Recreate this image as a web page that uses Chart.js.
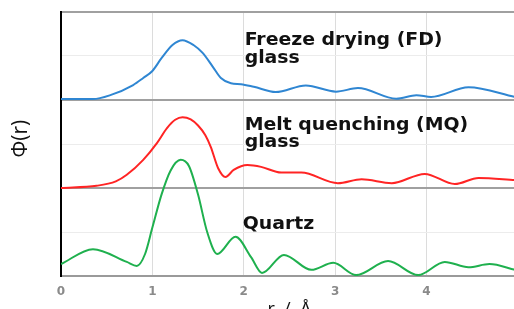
<!DOCTYPE html>
<html>
<head>
<meta charset="utf-8">
<script src="https://cdn.jsdelivr.net/npm/chart.js@4"></script>
<style>
    html, body { margin: 0; padding: 0; background: #fff; overflow: hidden; }
    #wrap { width: 531px; height: 326px; position: relative; }
</style>
</head>
<body>
<div id="wrap"><canvas id="chart"></canvas></div>
<script>
// Data
const fdR   = [0, 0.35, 0.54, 0.79, 0.9, 1.0, 1.1, 1.22, 1.33, 1.45, 1.55, 1.66, 1.75, 1.86, 1.97, 2.11, 2.35, 2.68, 3.01, 3.25, 3.67, 3.89, 4.05, 4.46, 4.97];
const fdPhi = [4.02, 4.02, 4.11, 4.34, 4.5, 4.66, 4.95, 5.25, 5.36, 5.25, 5.07, 4.76, 4.5, 4.38, 4.36, 4.3, 4.18, 4.33, 4.19, 4.27, 4.03, 4.11, 4.07, 4.29, 4.07];

const mqR   = [0, 0.39, 0.6, 0.72, 0.9, 1.05, 1.16, 1.25, 1.33, 1.42, 1.5, 1.58, 1.64, 1.72, 1.8, 1.89, 2.04, 2.19, 2.41, 2.63, 3.03, 3.29, 3.62, 3.98, 4.31, 4.57, 4.97];
const mqPhi = [2.0, 2.05, 2.15, 2.3, 2.64, 3.02, 3.36, 3.55, 3.61, 3.56, 3.42, 3.2, 2.93, 2.45, 2.25, 2.41, 2.52, 2.48, 2.35, 2.35, 2.11, 2.2, 2.11, 2.32, 2.09, 2.23, 2.18];

const qzR   = [0, 0.35, 0.72, 0.83, 0.92, 1.0, 1.1, 1.2, 1.31, 1.4, 1.5, 1.6, 1.71, 1.91, 2.08, 2.2, 2.44, 2.74, 2.98, 3.23, 3.58, 3.91, 4.2, 4.46, 4.69, 4.97];
const qzPhi = [0.27, 0.61, 0.32, 0.23, 0.5, 1.1, 1.85, 2.4, 2.64, 2.5, 1.85, 1.0, 0.5, 0.89, 0.43, 0.07, 0.48, 0.14, 0.3, 0.02, 0.34, 0.02, 0.32, 0.2, 0.27, 0.14];

const xTicks = [0, 1, 2, 3, 4, 5];

// text labels: [lines, r, phi]
const seriesLabels = [
    [['Freeze drying (FD)', 'glass'], 2.01, 5.34],
    [['Melt quenching (MQ)', 'glass'], 2.01, 3.43],
    [['Quartz'], 1.99, 1.16]
];

function toPoints(xs, ys) {
    return xs.map((x, i) => ({ x: x, y: ys[i] }));
}

// the labels in the picture are set in a wide bold face, so stretch a little
const labelPlugin = {
    id: 'seriesLabels',
    afterDatasetsDraw(chart) {
        const ctx = chart.ctx;
        const xs = chart.scales.x;
        const ys = chart.scales.y;
        ctx.save();
        ctx.font = 'bold 17px "DejaVu Sans"';
        ctx.fillStyle = '#111';
        ctx.textBaseline = 'middle';
        ctx.textAlign = 'left';
        seriesLabels.forEach(([lines, r, phi]) => {
            const px = xs.getPixelForValue(r);
            const py = ys.getPixelForValue(phi);
            lines.forEach((line, i) => {
                ctx.save();
                ctx.translate(px, py + i * 17.5);
                ctx.scale(1.11, 1);
                ctx.fillText(line, 0, 0);
                ctx.restore();
            });
        });
        ctx.restore();
    }
};

const lineStyle = { borderWidth: 2, pointRadius: 0, cubicInterpolationMode: 'monotone', fill: false };

new Chart(document.getElementById('chart'), {
    type: 'line',
    data: {
        datasets: [
            { data: toPoints(fdR, fdPhi), borderColor: '#2f86d2', ...lineStyle },
            { data: toPoints(mqR, mqPhi), borderColor: '#ff2424', ...lineStyle },
            { data: toPoints(qzR, qzPhi), borderColor: '#1fb04e', ...lineStyle }
        ]
    },
    options: {
        responsive: true,
        maintainAspectRatio: false,
        animation: false,
        layout: { padding: { top: 12, left: 0, right: 0, bottom: 0 } },
        plugins: { legend: { display: false }, tooltip: { enabled: false } },
        scales: {
            x: {
                type: 'linear',
                min: 0,
                max: 5,
                afterBuildTicks: scale => { scale.ticks = xTicks.map(v => ({ value: v })); },
                afterFit: scale => { scale.height = 50; },
                grid: { color: '#dcdcdc', lineWidth: 1, drawTicks: false },
                border: { color: '#9a9a9a', width: 2 },
                ticks: { color: '#8a8a8a', font: { family: '"DejaVu Sans"', size: 12, weight: 'bold' }, padding: 9 },
                title: { display: true, text: 'r  /  Å', color: '#111', font: { family: '"Open Sans"', size: 18 }, padding: { top: 0, bottom: 5 } }
            },
            y: {
                min: 0,
                max: 6,
                afterFit: scale => { scale.width = 61; },
                ticks: { stepSize: 1, display: false },
                grid: {
                    drawTicks: false,
                    color: c => (c.tick.value % 2 === 0 ? '#a0a0a0' : '#ececec'),
                    lineWidth: c => (c.tick.value % 2 === 0 ? 2 : 1)
                },
                border: { color: '#000', width: 2 },
                title: { display: true, text: '  Φ(r)', color: '#111', font: { family: '"Open Sans"', size: 21 }, padding: { top: 8, bottom: 0 } }
            }
        }
    },
    plugins: [labelPlugin]
});
</script>
</body>
</html>
